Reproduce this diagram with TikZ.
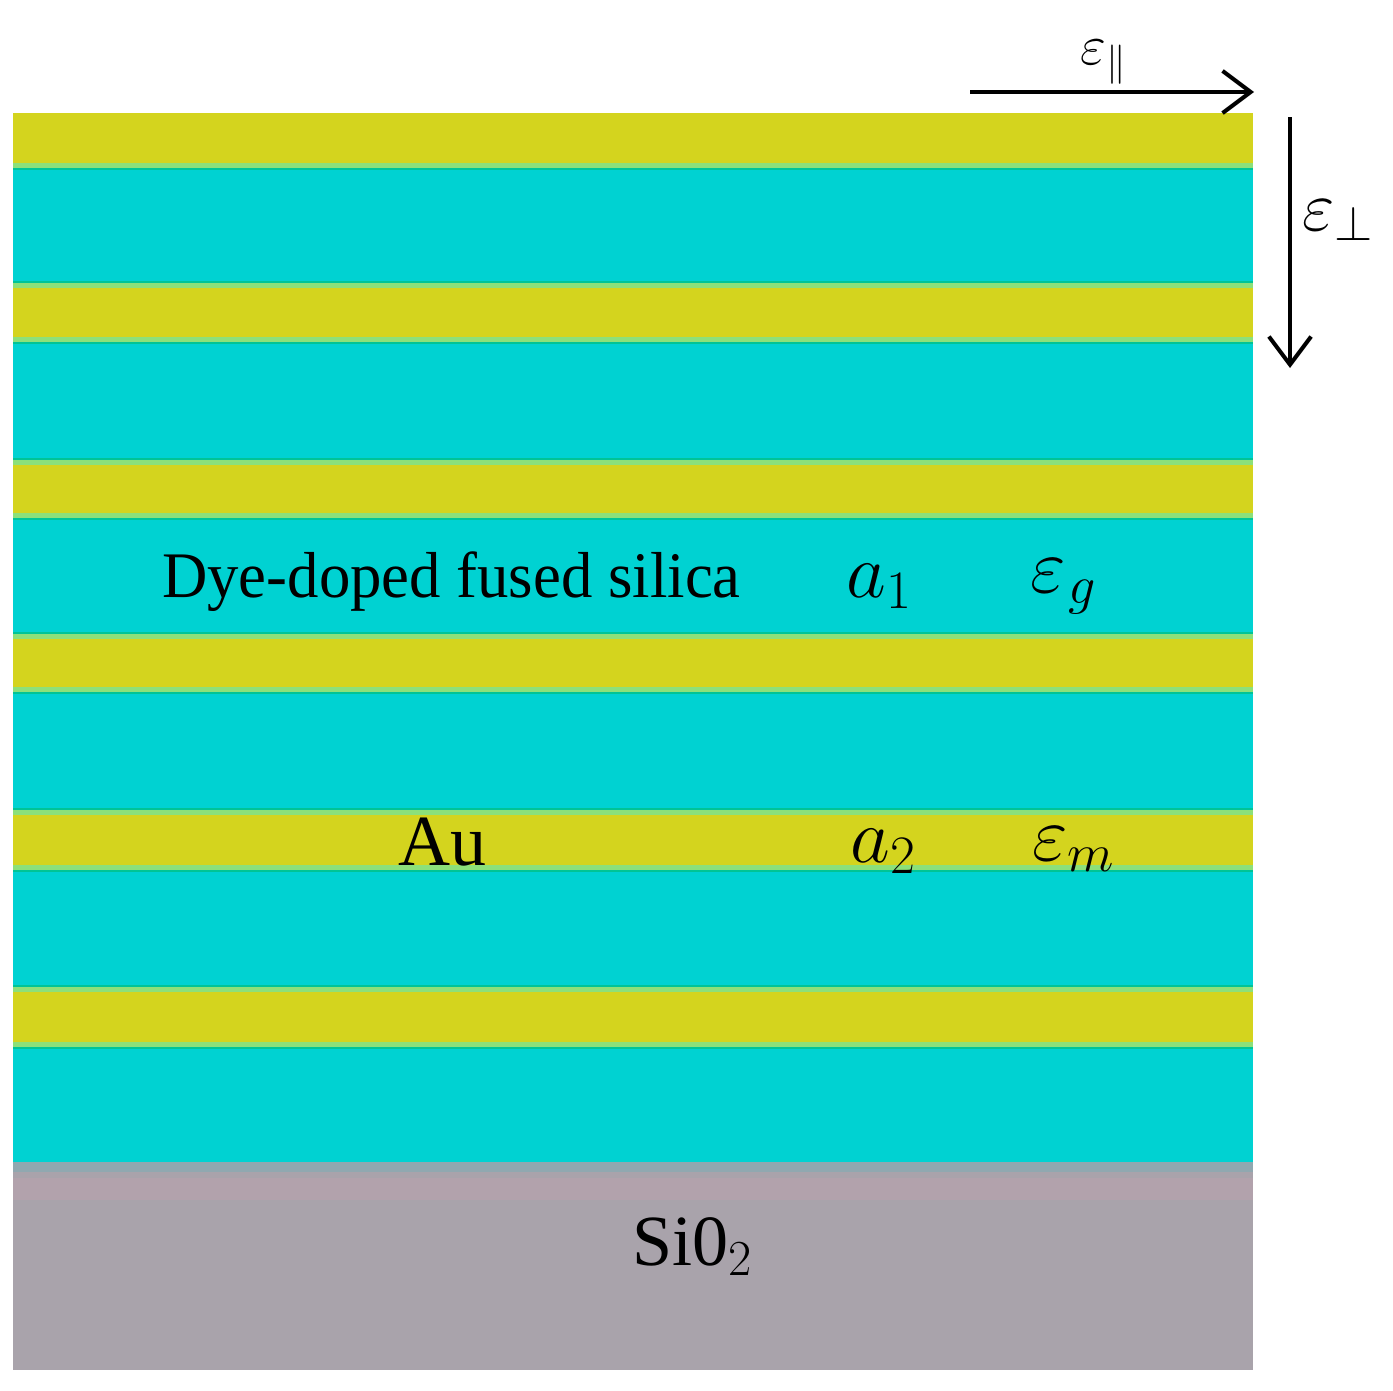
\RequirePackage{fix-cm}
\documentclass[tikz,border=0pt]{standalone}
\usepackage{fontspec}
\setmainfont{Liberation Serif}
\usetikzlibrary{arrows.meta}
\definecolor{cyanL}{RGB}{0,210,210}
\definecolor{yelL}{RGB}{212,212,30}
\definecolor{edgeL}{RGB}{140,224,122}
\definecolor{edgeD}{RGB}{0,196,150}
\definecolor{grayL}{RGB}{169,163,171}
\definecolor{grayT}{RGB}{144,168,176}
\definecolor{grayP}{RGB}{178,162,172}
\tikzset{
  lbl/.style={inner sep=0pt, anchor=base west, font=\fontsize{37}{44}\selectfont},
  lblbig/.style={inner sep=0pt, anchor=base west, font=\fontsize{41}{48}\selectfont},
  lblmath/.style={inner sep=0pt, anchor=base west, font=\fontsize{44}{52}\selectfont},
  axis/.style={line width=2.3pt, -{Straight Barb[length=16pt,width=24pt,line width=2.3pt]}},
}
\newcommand{\ybandX}[2]{%
  \fill[yelL] (13,#1) rectangle (1253,#2);
  \fill[edgeL] (13,#1) rectangle (1253,#1+5);
  \fill[edgeL] (1253,#2-5) rectangle (13,#2);
  \fill[edgeD] (13,#1-2) rectangle (1253,#1);
  \fill[edgeD] (13,#2) rectangle (1253,#2+2);
}
\begin{document}
\begin{tikzpicture}[x=0.02cm,y=-0.02cm]
\useasboundingbox (0,0) rectangle (1393,1390);
% stack
\fill[cyanL] (13,113) rectangle (1253,1162);
\fill[yelL] (13,113) rectangle (1253,168);
\fill[edgeL] (13,163) rectangle (1253,168);
\fill[edgeD] (13,168) rectangle (1253,170);
\ybandX{283}{342}
\ybandX{460}{518}
\ybandX{634}{692}
\ybandX{810}{870}
\ybandX{987}{1047}
% substrate
\fill[grayL] (13,1162) rectangle (1253,1370);
\fill[grayT] (13,1162) rectangle (1253,1172);
\fill[grayP] (13,1178) rectangle (1253,1200);
% labels
\node[lbl, xscale=0.965] (silica) at (162,597) {Dye-doped fused silica};
\node[lblmath] (a1) at (846,597) {$a_1$};
\node[lblmath] (eg) at (1030,592) {$\varepsilon_{\mkern1mu g}$};
\node[lblbig] (au) at (398,865) {Au};
\node[lblmath] (a2) at (850,862) {$a_2$};
\node[lblmath] (em) at (1032,860) {$\varepsilon_m$};
\node[lblbig] (sio) at (632,1265) {Si0$_2$};
% axes
\coordinate (hs) at (970,92);
\coordinate (he) at (1254,92);
\coordinate (vs) at (1290,117);
\coordinate (ve) at (1290,368);
\draw[axis] (hs) -- (he);
\draw[axis] (vs) -- (ve);
\node[inner sep=0pt, anchor=base west, font=\fontsize{32}{38}\selectfont] (epar) at (1080,64) {$\varepsilon_\parallel$};
\node[inner sep=0pt, anchor=base west, font=\fontsize{40}{48}\selectfont] (eperp) at (1302,230) {$\varepsilon_\perp$};
\end{tikzpicture}
\end{document}
